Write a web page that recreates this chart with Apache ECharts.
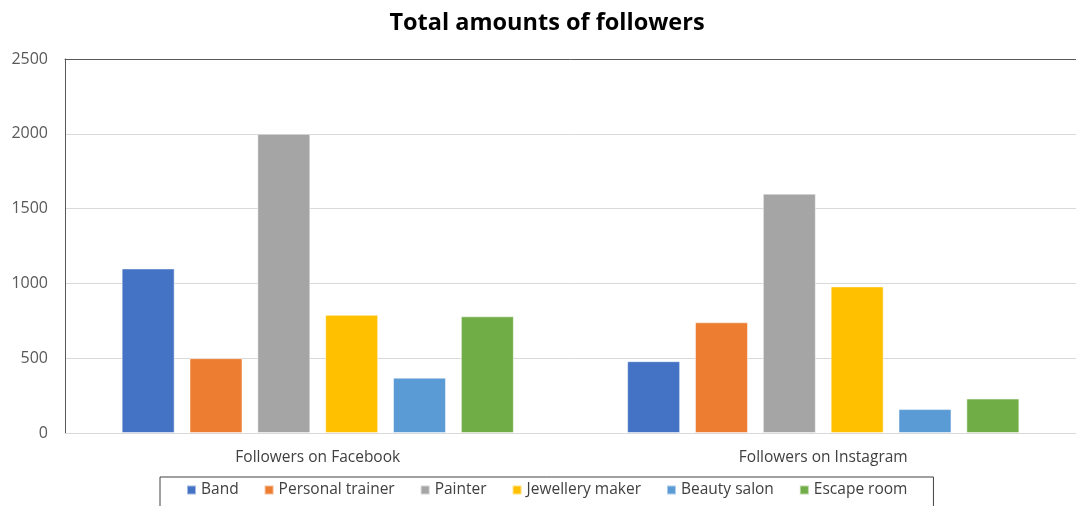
<!DOCTYPE html>
<html>
<head>
<meta charset="utf-8">
<script src="https://cdn.jsdelivr.net/npm/echarts@6/dist/echarts.min.js"></script>
<style>
html,body{margin:0;padding:0;background:#fff;}
#chart{width:1076px;height:506px;}
</style>
</head>
<body>
<div id="chart"></div>
<script>
const categories = ['Followers on Facebook', 'Followers on Instagram'];
const seriesNames = ['Band', 'Personal trainer', 'Painter', 'Jewellery maker', 'Beauty salon', 'Escape room'];
const band = [1100, 480];
const personalTrainer = [500, 740];
const painter = [2000, 1600];
const jewelleryMaker = [790, 980];
const beautySalon = [370, 160];
const escapeRoom = [780, 230];
const yTicks = [0, 500, 1000, 1500, 2000, 2500];

const colors = ['#4472C4', '#ED7D31', '#A5A5A5', '#FFC000', '#5B9BD5', '#70AD47'];
const values = [band, personalTrainer, painter, jewelleryMaker, beautySalon, escapeRoom];
const font = "'Open Sans', 'Noto Sans', sans-serif";

const chart = echarts.init(document.getElementById('chart'));
chart.setOption({
  animation: false,
  color: colors,
  textStyle: { fontFamily: font },
  title: {
    text: 'Total amounts of followers',
    left: 542,
    textAlign: 'center',
    top: 6,
    textStyle: { fontSize: 23.5, fontWeight: 'bold', color: '#000', fontFamily: font }
  },
  legend: {
    data: seriesNames,
    left: 160,
    top: 477,
    padding: [5, 26, 12, 26],
    itemGap: 25,
    itemWidth: 9,
    itemHeight: 9,
    icon: 'rect',
    borderColor: '#404040',
    borderWidth: 1,
    textStyle: { fontSize: 15.5, color: '#404040', fontFamily: font }
  },
  grid: {
    left: 65,
    right: 0,
    top: 59,
    bottom: 73
  },
  xAxis: [{
    type: 'category',
    data: categories,
    axisLine: { show: true, lineStyle: { color: '#D9D9D9', width: 1 } },
    axisTick: { show: false },
    axisLabel: { fontSize: 15.5, color: '#404040', margin: 17, fontFamily: font }
  }, {
    type: 'category',
    data: categories,
    position: 'top',
    axisLine: { show: true, lineStyle: { color: '#595959', width: 1 } },
    axisTick: { show: false },
    axisLabel: { show: false }
  }],
  yAxis: {
    type: 'value',
    min: yTicks[0],
    max: yTicks[yTicks.length - 1],
    interval: 500,
    axisLine: { show: true, lineStyle: { color: '#595959', width: 1 } },
    axisTick: { show: false },
    splitLine: { lineStyle: { color: '#D9D9D9', width: 1 } },
    axisLabel: { fontSize: 16, color: '#595959', margin: 17, fontFamily: font, formatter: v => String(v) }
  },
  series: seriesNames.map((name, i) => ({
    name: name,
    type: 'bar',
    data: values[i],
    barWidth: 53,
    barGap: '28%',
    itemStyle: { color: colors[i], borderColor: 'rgba(255,255,255,0.5)', borderWidth: 1 }
  }))
});
</script>
</body>
</html>
